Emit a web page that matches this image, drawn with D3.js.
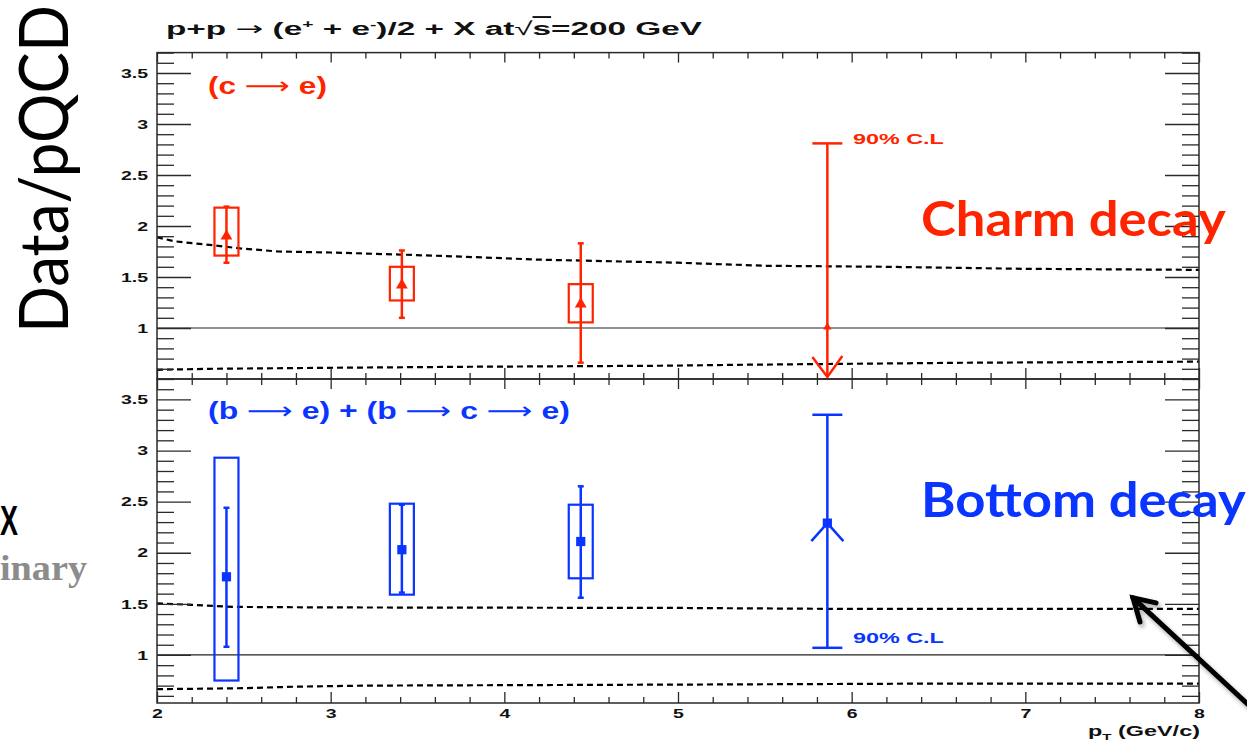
<!DOCTYPE html>
<html>
<head>
<meta charset="utf-8">
<title>Data/pQCD - charm and bottom decay electrons</title>
<script src="https://cdn.jsdelivr.net/npm/d3@7"></script>
<style>
  body { margin: 0; background: #fff; }
  svg { display: block; }
  .rt { font-family: "Liberation Sans", Arial, sans-serif; font-weight: bold; }
  .arr { font-family: "DejaVu Sans", sans-serif; font-weight: normal; }
</style>
</head>
<body>
<div id="chart"></div>
<script>
// ---- values ----
var ptPoints = [2.40, 3.41, 4.44];

// charm (c -> e)
var charmVal    = [1.90, 1.42, 1.235];
var charmStatLo = [1.64, 1.10, 0.66];
var charmStatHi = [2.19, 1.76, 1.83];
var charmSysLo  = [1.71, 1.27, 1.055];
var charmSysHi  = [2.18, 1.60, 1.43];
// 90% C.L upper limit
var charmLimit = {pt: 5.86, val: 1.0, hi: 2.81, lo: 0.52};

// bottom (b -> e) + (b -> c -> e)
var bottomVal    = [1.765, 2.03, 2.11];
var bottomStatLo = [1.08, 1.61, 1.56];
var bottomStatHi = [2.44, 2.47, 2.65];
var bottomSysLo  = [0.75, 1.59, 1.75];
var bottomSysHi  = [2.93, 2.48, 2.47];
var bottomLimit = {pt: 5.86, val: 2.29, hi: 3.35, lo: 1.07};

// pQCD uncertainty band edges (dashed)
var charmUpperPt  = [2.0, 2.1, 2.33, 2.48, 2.7, 3.0, 3.4, 3.75, 4.2, 5.0, 5.5, 6.2, 7.0, 8.0];
var charmUpperVal = [1.89, 1.85, 1.81, 1.78, 1.75, 1.74, 1.72, 1.70, 1.67, 1.64, 1.61, 1.60, 1.58, 1.57];
var charmLowerPt  = [2.0, 2.3, 3.0, 3.8, 4.9, 5.4, 6.7, 8.0];
var charmLowerVal = [0.59, 0.60, 0.61, 0.62, 0.63, 0.64, 0.66, 0.67];
var bottomUpperPt  = [2.0, 2.2, 2.45, 3.0, 5.0, 6.0, 8.0];
var bottomUpperVal = [1.505, 1.49, 1.47, 1.465, 1.46, 1.45, 1.45];
var bottomLowerPt  = [2.0, 2.5, 2.8, 3.2, 5.0, 6.5, 8.0];
var bottomLowerVal = [0.665, 0.675, 0.69, 0.70, 0.71, 0.72, 0.72];

// ticks
var xMajorTicks = [2, 3, 4, 5, 6, 7, 8];
var yMajorTicks = [1, 1.5, 2, 2.5, 3, 3.5];

// annotation arrow (bottom panel data coords)
var arrowTip  = {pt: 7.62, val: 1.558};
var arrowTail = {pt: 8.40, val: 0.33};

var RED = "#ff2400", BLUE = "#0a34ff", AXIS = "#2a2a2a";

var W = 1247, H = 744;
var svg = d3.select("#chart").append("svg")
    .attr("width", W)
    .attr("height", H);

var defs = svg.append("defs");
defs.append("filter").attr("id", "shadow")
    .attr("x", "-20%").attr("y", "-20%").attr("width", "140%").attr("height", "140%")
  .append("feDropShadow")
    .attr("dx", 2).attr("dy", 3).attr("stdDeviation", 2)
    .attr("flood-color", "#000").attr("flood-opacity", 0.35);

var x = d3.scaleLinear().domain([2, 8]).range([157, 1199]);

var panels = [
  {
    y: d3.scaleLinear().domain([0.5, 3.7]).range([379, 52.6]),
    color: RED, marker: d3.symbolTriangle, markerSize: 60,
    val: charmVal, statLo: charmStatLo, statHi: charmStatHi, sysLo: charmSysLo, sysHi: charmSysHi,
    limit: charmLimit,
    upper: d3.zip(charmUpperPt, charmUpperVal), lower: d3.zip(charmLowerPt, charmLowerVal)
  },
  {
    y: d3.scaleLinear().domain([0.53, 3.7]).range([703, 379]),
    color: BLUE, marker: d3.symbolSquare, markerSize: 85,
    val: bottomVal, statLo: bottomStatLo, statHi: bottomStatHi, sysLo: bottomSysLo, sysHi: bottomSysHi,
    limit: bottomLimit,
    upper: d3.zip(bottomUpperPt, bottomUpperVal), lower: d3.zip(bottomLowerPt, bottomLowerVal)
  }
];

// stretch a text element horizontally so it spans x0..x1 (the original figure was squashed)
function fitText(t, x0, x1, baseline) {
  var b = t.node().getBBox();
  var sx = (x1 - x0) / b.width;
  t.attr("transform", "translate(" + (x0 - b.x * sx) + "," + baseline + ") scale(" + sx + ",1)");
}

panels.forEach(function(p, pi) {
  var y = p.y;
  var y0 = y.range()[0], y1 = y.range()[1];
  var g = svg.append("g");

  // dashed pQCD band edges
  var line = d3.line()
    .x(function(d) { return x(d[0]); })
    .y(function(d) { return y(d[1]); });
  [p.upper, p.lower].forEach(function(band) {
    g.append("path")
      .attr("d", line(band))
      .attr("fill", "none")
      .attr("stroke", "#000")
      .attr("stroke-width", 2.2)
      .attr("stroke-dasharray", "6,4");
  });

  // ratio = 1
  g.append("line")
    .attr("x1", x(2)).attr("x2", x(8))
    .attr("y1", y(1)).attr("y2", y(1))
    .attr("stroke", "#222").attr("stroke-width", 1.2);

  // systematic boxes
  g.selectAll(".sys").data(ptPoints).enter().append("rect")
    .attr("x", function(d) { return x(d) - 12; })
    .attr("width", 24)
    .attr("y", function(d, i) { return y(p.sysHi[i]); })
    .attr("height", function(d, i) { return y(p.sysLo[i]) - y(p.sysHi[i]); })
    .attr("fill", "none")
    .attr("stroke", p.color)
    .attr("stroke-width", 2.2);

  // stat error bars with caps
  var bars = g.selectAll(".stat").data(ptPoints).enter().append("g")
    .attr("stroke", p.color).attr("stroke-width", 2.5);
  bars.append("line")
    .attr("x1", function(d) { return x(d); }).attr("x2", function(d) { return x(d); })
    .attr("y1", function(d, i) { return y(p.statHi[i]); })
    .attr("y2", function(d, i) { return y(p.statLo[i]); });
  bars.append("line")
    .attr("x1", function(d) { return x(d) - 3; }).attr("x2", function(d) { return x(d) + 3; })
    .attr("y1", function(d, i) { return y(p.statHi[i]); })
    .attr("y2", function(d, i) { return y(p.statHi[i]); });
  bars.append("line")
    .attr("x1", function(d) { return x(d) - 3; }).attr("x2", function(d) { return x(d) + 3; })
    .attr("y1", function(d, i) { return y(p.statLo[i]); })
    .attr("y2", function(d, i) { return y(p.statLo[i]); });

  // markers
  g.selectAll(".mk").data(ptPoints).enter().append("path")
    .attr("d", d3.symbol(p.marker, p.markerSize))
    .attr("transform", function(d, i) { return "translate(" + x(d) + "," + y(p.val[i]) + ")"; })
    .attr("fill", p.color);

  // 90% C.L limit point
  var L = p.limit, lx = x(L.pt);
  var lg = g.append("g").attr("stroke", p.color).attr("stroke-width", 2.5).attr("fill", "none");
  lg.append("line").attr("x1", lx).attr("x2", lx).attr("y1", y(L.hi)).attr("y2", y(L.lo));
  lg.append("line").attr("x1", lx - 15).attr("x2", lx + 15).attr("y1", y(L.hi)).attr("y2", y(L.hi));
  if (pi === 0) {
    // downward arrow head at the bottom
    lg.append("path").attr("d", "M" + (lx - 15) + "," + (y(L.lo) - 20) + "L" + lx + "," + y(L.lo) + "L" + (lx + 15) + "," + (y(L.lo) - 21));
    g.append("path").attr("d", d3.symbol(d3.symbolTriangle, 30))
      .attr("transform", "translate(" + lx + "," + (y(L.val) - 1) + ")").attr("fill", p.color);
  } else {
    lg.append("line").attr("x1", lx - 15).attr("x2", lx + 15).attr("y1", y(L.lo)).attr("y2", y(L.lo));
    lg.append("path").attr("d", "M" + (lx - 16) + "," + (y(L.val) + 18) + "L" + lx + "," + y(L.val) + "L" + (lx + 16) + "," + (y(L.val) + 18));
    g.append("path").attr("d", d3.symbol(p.marker, p.markerSize))
      .attr("transform", "translate(" + lx + "," + y(L.val) + ")").attr("fill", p.color);
  }
  var cl = g.append("text").attr("class", "rt").attr("fill", p.color)
    .style("font-size", "15px").text("90% C.L");
  fitText(cl, 853, 944, pi === 0 ? y(L.hi) + 1 : y(L.lo) - 5);

  // frame
  g.append("rect")
    .attr("x", x(2)).attr("y", y1)
    .attr("width", x(8) - x(2)).attr("height", y0 - y1)
    .attr("fill", "none").attr("stroke", AXIS).attr("stroke-width", 1.5);

  // y ticks: left and right, pointing inside
  var minorY = d3.range(6, 38).map(function(d) { return d / 10; })
    .filter(function(d) { return d >= y.domain()[0] && d <= y.domain()[1] && yMajorTicks.indexOf(d) < 0; });
  var axL = g.append("g").attr("transform", "translate(" + x(2) + ",0)");
  axL.append("g").call(d3.axisLeft(y).tickValues(minorY).tickSizeInner(-17).tickSizeOuter(0).tickFormat(""));
  var majL = axL.append("g").call(d3.axisLeft(y).tickValues(yMajorTicks).tickSizeInner(-34).tickSizeOuter(0).tickPadding(9).tickFormat(d3.format("")));
  var axR = g.append("g").attr("transform", "translate(" + x(8) + ",0)");
  axR.append("g").call(d3.axisRight(y).tickValues(minorY).tickSizeInner(-17).tickSizeOuter(0).tickFormat(""));
  axR.append("g").call(d3.axisRight(y).tickValues(yMajorTicks).tickSizeInner(-34).tickSizeOuter(0).tickFormat(""));

  majL.selectAll("text")
    .attr("class", "rt")
    .attr("x", null)
    .attr("transform", "translate(-9,0) scale(1.5,1)")
    .style("font-size", "13px")
    .attr("fill", "#111");

  // x ticks: bottom and top of the frame, pointing inside
  var minorX = d3.range(10, 41).map(function(d) { return d / 5; })
    .filter(function(d) { return xMajorTicks.indexOf(d) < 0; });
  var axB = g.append("g").attr("transform", "translate(0," + y0 + ")");
  axB.append("g").call(d3.axisBottom(x).tickValues(minorX).tickSizeInner(-6).tickSizeOuter(0).tickFormat(""));
  var majB = axB.append("g").call(d3.axisBottom(x).tickValues(xMajorTicks).tickSizeInner(-11).tickSizeOuter(0)
    .tickPadding(5).tickFormat(pi === 1 ? d3.format("") : ""));
  var axT = g.append("g").attr("transform", "translate(0," + y1 + ")");
  axT.append("g").call(d3.axisTop(x).tickValues(minorX).tickSizeInner(-6).tickSizeOuter(0).tickFormat(""));
  axT.append("g").call(d3.axisTop(x).tickValues(xMajorTicks).tickSizeInner(-10).tickSizeOuter(0).tickFormat(""));

  majB.selectAll("text")
    .attr("class", "rt")
    .attr("y", null).attr("dy", null)
    .attr("transform", "translate(0,15) scale(1.5,1)")
    .style("font-size", "13px")
    .attr("fill", "#111");

  g.selectAll(".domain").remove();
  g.selectAll(".tick line").attr("stroke", AXIS).attr("stroke-width", 1.3);
});

// ---- texts ----
var title = svg.append("text").attr("class", "rt").style("font-size", "19px").attr("fill", "#111");
title.append("tspan").text("p+p ");
title.append("tspan").attr("class", "arr").text("\u2192");
title.append("tspan").text(" (e");
title.append("tspan").attr("dy", -7).style("font-size", "11px").text("+");
title.append("tspan").attr("dy", 7).text(" + e");
title.append("tspan").attr("dy", -7).style("font-size", "11px").text("-");
title.append("tspan").attr("dy", 7).text(")/2 + X at");
title.append("tspan").style("font-weight", "normal").text("\u221A");
title.append("tspan").style("text-decoration", "overline").text("s");
title.append("tspan").text("=200 GeV");
fitText(title, 166, 703, 35);

var labC = svg.append("text").attr("class", "rt").style("font-size", "24px").attr("fill", RED);
labC.append("tspan").text("(c ");
labC.append("tspan").attr("class", "arr").text("\u27F6");
labC.append("tspan").text(" e)");
fitText(labC, 208, 327, 94);

var labB = svg.append("text").attr("class", "rt").style("font-size", "24px").attr("fill", BLUE);
labB.append("tspan").text("(b ");
labB.append("tspan").attr("class", "arr").text("\u27F6");
labB.append("tspan").text(" e) + (b ");
labB.append("tspan").attr("class", "arr").text("\u27F6");
labB.append("tspan").text(" c ");
labB.append("tspan").attr("class", "arr").text("\u27F6");
labB.append("tspan").text(" e)");
fitText(labB, 208, 570, 419);

var xt = svg.append("text").attr("class", "rt").style("font-size", "14px").attr("fill", "#111");
xt.append("tspan").text("p");
xt.append("tspan").attr("dy", 4).style("font-size", "9px").text("T");
xt.append("tspan").attr("dy", -4).text(" (GeV/c)");
fitText(xt, 1088, 1200, 736);

// slide annotations
var yl = svg.append("text")
    .style("font-family", "Lato, 'Open Sans', sans-serif")
    .style("font-size", "68px")
    .attr("fill", "#000")
    .text("Data/pQCD");
var yb = yl.node().getBBox();
yl.attr("transform", "translate(68,333) rotate(-90) scale(" + (328 / yb.width) + ",1)");

var charm = svg.append("text")
    .style("font-family", "Lato, sans-serif").style("font-weight", 700)
    .style("font-size", "47px").attr("fill", RED).text("Charm decay");
fitText(charm, 921, 1226, 236);

var bottom = svg.append("text")
    .style("font-family", "Lato, sans-serif").style("font-weight", 700)
    .style("font-size", "47px").attr("fill", BLUE).text("Bottom decay");
fitText(bottom, 921, 1246, 517);

// remains of the "PHENIX Preliminary" tag, cut by the slide edge
var tagX = svg.append("text")
    .style("font-family", "'Liberation Sans', Arial, sans-serif").style("font-weight", "bold")
    .style("font-size", "42px").attr("fill", "#000")
    .text("X");
fitText(tagX, 0, 18, 535);
var tagP = svg.append("text")
    .style("font-family", "'Liberation Serif', 'Times New Roman', serif").style("font-weight", "bold")
    .style("font-size", "36px").attr("fill", "#8c8c8c")
    .text("inary");
fitText(tagP, 0, 87, 580);

// black arrow pointing at the bottom band
var yB = panels[1].y;
var tx = x(arrowTip.pt), ty = yB(arrowTip.val);
var ag = svg.append("g")
    .attr("stroke", "#000").attr("stroke-width", 5)
    .attr("stroke-linecap", "round").attr("fill", "none")
    .attr("filter", "url(#shadow)");
ag.append("line")
    .attr("x1", x(arrowTail.pt)).attr("y1", yB(arrowTail.val))
    .attr("x2", tx).attr("y2", ty);
ag.append("path")
    .attr("d", "M" + (tx + 7) + "," + (ty + 24) + "L" + tx + "," + ty + "L" + (tx + 23) + "," + (ty + 5));
</script>
</body>
</html>
